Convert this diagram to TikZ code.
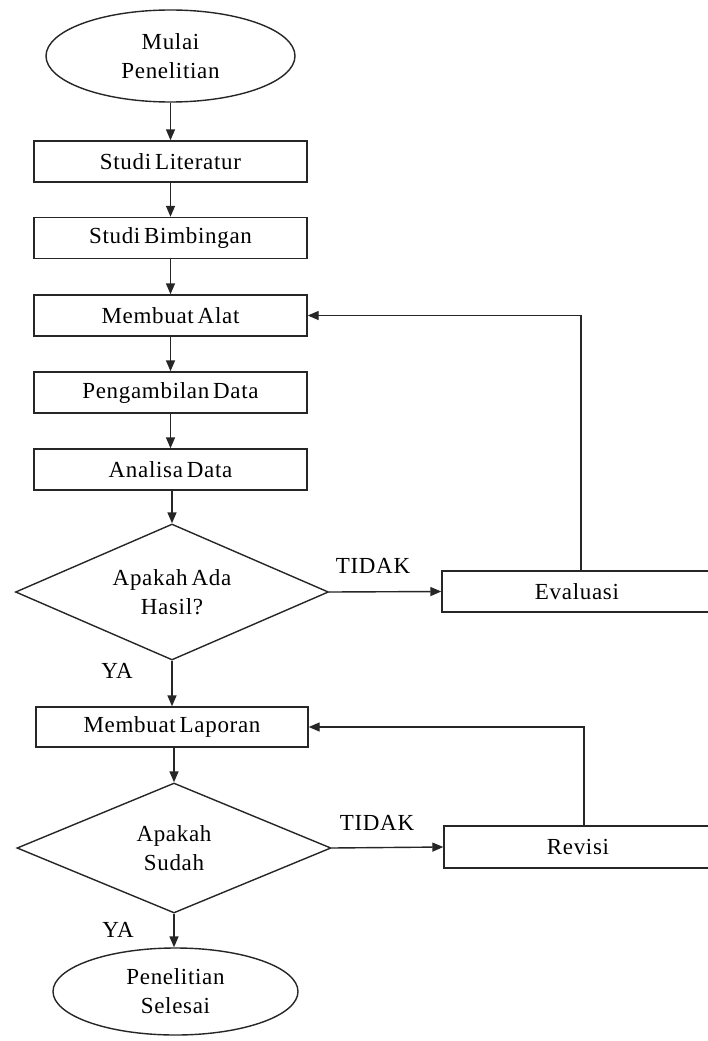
\documentclass[tikz,border=0pt]{standalone}
\usepackage{fontspec}
\setmainfont{Liberation Serif}[LetterSpace=3]
\usetikzlibrary{shapes.geometric,arrows.meta}
\newcommand{\fsz}{\fontsize{23}{29}\selectfont}
\begin{document}
\begin{tikzpicture}[x=1pt,y=-1pt,
  lc/.style={draw=black!85, line width=1.4pt},
  box/.style={lc, rectangle, minimum width=273pt, minimum height=41pt, inner sep=0pt, font=\fsz},
  term/.style={lc, ellipse, inner sep=0pt, align=center, font=\fsz},
  dec/.style={lc, diamond, aspect=2.3, inner sep=0pt, align=center, font=\fsz},
  lbl/.style={inner sep=0pt, font=\fsz},
  arr/.style={lc, -{Triangle[length=11pt,width=9pt]}}]
\clip (0,0) rectangle (708,1041);
\fill[white] (0,0) rectangle (708,1041);
\node[term, minimum width=249pt, minimum height=92pt] (start) at (170.5,56) {Mulai\\Penelitian};
\node[box] (lit) at (170.5,161.5) {Studi\,Literatur};
\node[box] (bim) at (170.5,238) {Studi\,Bimbingan};
\node[box] (alat) at (170.5,315.5) {Membuat\,Alat};
\node[box] (ambil) at (170.5,392.5) {Pengambilan\,Data};
\node[box] (anal) at (170.5,469.5) {Analisa\,Data};
\node[dec, minimum width=313pt, minimum height=136pt] (d1) at (172,592) {Apakah\,Ada\\Hasil?};
\node[box, minimum width=270pt] (eval) at (577,591.5) {Evaluasi};
\node[box, minimum width=272pt, minimum height=40pt] (lap) at (172,727) {Membuat\,Laporan};
\node[dec, minimum width=314pt, minimum height=130pt] (d2) at (174,848) {Apakah\\Sudah};
\node[box, minimum width=268pt, minimum height=42pt] (rev) at (578,847) {Revisi};
\node[term, minimum width=245pt, minimum height=87pt] (end) at (175.5,991.5) {Penelitian\\Selesai};
\node[lbl] (t1) at (373,566) {TIDAK};
\node[lbl] (t2) at (377,823) {TIDAK};
\node[lbl] (y1) at (117,671) {YA};
\node[lbl] (y2) at (118,930) {YA};
\coordinate (f1) at (581,0);
\coordinate (f2) at (584,0);
\draw[arr] (start) -- (lit);
\draw[arr] (lit) -- (bim);
\draw[arr] (bim) -- (alat);
\draw[arr] (alat) -- (ambil);
\draw[arr] (ambil) -- (anal);
\draw[arr] (anal.south -| d1.north) -- (d1.north);
\draw[arr] (d1.east) -- (eval.west);
\draw[arr] (eval.north -| f1) |- (alat.east);
\draw[arr] (d1.south) -- (lap.north);
\draw[arr] (lap.south -| d2.north) -- (d2.north);
\draw[arr] (d2.east) -- (rev.west);
\draw[arr] (rev.north -| f2) |- (lap.east);
\draw[arr] (d2.south) -- (d2.south |- end.north);
\end{tikzpicture}
\end{document}
